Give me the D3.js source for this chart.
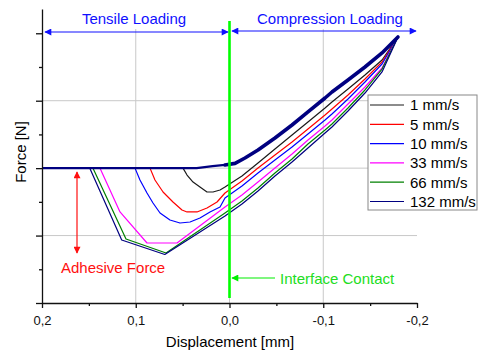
<!DOCTYPE html>
<html>
<head>
<meta charset="utf-8">
<script src="https://d3js.org/d3.v7.min.js"></script>
<style>
  body { margin: 0; background: #fff; }
  text { font-family: "Liberation Sans", Arial, sans-serif; }
</style>
</head>
<body>
<svg id="chart" width="481" height="353"></svg>
<script>
// speeds shown in the legend
var speeds = ["1 mm/s", "5 mm/s", "10 mm/s", "33 mm/s", "66 mm/s", "132 mm/s"];
var colors = ["#1a1a1a", "#ff0000", "#0000ff", "#ff00ff", "#008000", "#000080"];

// approach (loading) curve, shared by all speeds
var approachDisp  = [0.2, 0.1, 0.035, 0.018, 0.0048, -0.0059, -0.0165, -0.0304, -0.0485, -0.0667, -0.0837, -0.1019, -0.1093, -0.1264, -0.1445, -0.1627, -0.1797];
var approachForce = [0, 0, 0, 0.03, 0.047, 0.071, 0.15, 0.269, 0.447, 0.64, 0.833, 1.04, 1.129, 1.307, 1.5, 1.708, 1.945];

// unloading curves, from max compression back to 0,2 mm
var disp1   = [-0.1797, -0.1627, -0.1445, -0.1264, -0.1093, -0.1019, -0.0837, -0.0667, -0.0485, -0.0304, -0.0133, 0.0048, 0.0101, 0.0176, 0.024, 0.0315, 0.0389, 0.0453, 0.0496, 0.2];
var force1  = [1.945, 1.604, 1.381, 1.174, 0.981, 0.892, 0.684, 0.491, 0.284, 0.076, -0.117, -0.28, -0.324, -0.354, -0.354, -0.28, -0.206, -0.102, 0, 0];
var disp5   = [-0.1797, -0.1627, -0.1445, -0.1264, -0.1093, -0.1019, -0.0837, -0.0667, -0.0485, -0.0304, -0.0133, 0.0048, 0.0133, 0.024, 0.0347, 0.0453, 0.0507, 0.0603, 0.0709, 0.0795, 0.0848, 0.2];
var force5  = [1.945, 1.574, 1.322, 1.085, 0.877, 0.788, 0.58, 0.388, 0.195, 0.002, -0.191, -0.369, -0.502, -0.591, -0.65, -0.65, -0.621, -0.502, -0.354, -0.176, 0, 0];
var disp10  = [-0.1797, -0.1627, -0.1445, -0.1264, -0.1093, -0.1019, -0.0837, -0.0667, -0.0485, -0.0304, -0.0133, 0.0048, 0.0101, 0.0208, 0.0315, 0.0421, 0.0528, 0.0635, 0.0741, 0.0816, 0.088, 0.0955, 0.1008, 0.2];
var force10 = [1.945, 1.544, 1.277, 1.025, 0.803, 0.714, 0.506, 0.313, 0.121, -0.072, -0.265, -0.443, -0.576, -0.65, -0.739, -0.799, -0.814, -0.769, -0.665, -0.517, -0.369, -0.176, 0, 0];
var disp33  = [-0.1797, -0.1627, -0.1445, -0.1264, -0.1093, -0.1019, -0.0837, -0.0667, -0.0485, -0.0304, -0.0133, 0.0048, 0.056, 0.088, 0.1168, 0.1381, 0.2];
var force33 = [1.945, 1.485, 1.203, 0.951, 0.714, 0.625, 0.417, 0.21, 0.002, -0.206, -0.398, -0.576, -1.11, -1.11, -0.65, 0, 0];
var disp66  = [-0.1797, -0.1627, -0.1445, -0.1264, -0.1093, -0.1019, -0.0837, -0.0667, -0.0485, -0.0304, -0.0133, 0.0048, 0.0677, 0.1104, 0.1456, 0.2];
var force66 = [1.945, 1.47, 1.159, 0.892, 0.655, 0.566, 0.358, 0.136, -0.072, -0.295, -0.487, -0.665, -1.258, -1.051, 0, 0];
var disp132  = [-0.1797, -0.1627, -0.1445, -0.1264, -0.1093, -0.1019, -0.0837, -0.0667, -0.0485, -0.0304, -0.0133, 0.0048, 0.069, 0.115, 0.149, 0.2];
var force132 = [1.945, 1.426, 1.114, 0.847, 0.61, 0.521, 0.299, 0.091, -0.117, -0.339, -0.532, -0.71, -1.281, -1.066, 0, 0];

var unloadDisp  = [disp1, disp5, disp10, disp33, disp66, disp132];
var unloadForce = [force1, force5, force10, force33, force66, force132];

var xMajor = [0.2, 0.1, 0.0, -0.1, -0.2];
var xTickLabels = ["0,2", "0,1", "0,0", "-0,1", "-0,2"];
var xMinor = [0.15, 0.05, -0.05, -0.15];
var yMajor = [-2, -1, 0, 1, 2];
var yMinor = [-1.5, -0.5, 0.5, 1.5];

var svg = d3.select("#chart");

var x = d3.scaleLinear().domain([0.2, -0.2]).range([42, 417]);
var y = d3.scaleLinear().domain([-2, 2.36]).range([303, 9]);

// grid
svg.append("g").selectAll("line")
    .data([0.1, 0.0, -0.1])
    .enter().append("line")
    .attr("x1", d => x(d)).attr("x2", d => x(d))
    .attr("y1", 29).attr("y2", y(-2))
    .attr("stroke", "#c8c8c8").attr("stroke-width", 1);

svg.append("g").selectAll("line")
    .data([-1, 0, 1])
    .enter().append("line")
    .attr("x1", x(0.2)).attr("x2", x(-0.2))
    .attr("y1", d => y(d)).attr("y2", d => y(d))
    .attr("stroke", "#c8c8c8").attr("stroke-width", 1);

// curves
var line = d3.line().x(d => x(d[0])).y(d => y(d[1]));

unloadDisp.forEach(function(xs, i) {
    var pts = xs.map((v, j) => [v, unloadForce[i][j]]);
    svg.append("path")
        .datum(pts)
        .attr("d", line)
        .attr("fill", "none")
        .attr("stroke", colors[i])
        .attr("stroke-width", 1.2)
        .attr("stroke-linejoin", "round");
});

var approach = approachDisp.map((v, j) => [v, approachForce[j]]);
svg.append("path")
    .datum(approach.filter(d => d[0] >= 0))
    .attr("d", line)
    .attr("fill", "none")
    .attr("stroke", "#000080")
    .attr("stroke-width", 2.2);
svg.append("path")
    .datum(approach.filter(d => d[0] <= 0.005))
    .attr("d", line)
    .attr("fill", "none")
    .attr("stroke", "#000080")
    .attr("stroke-width", 3.6)
    .attr("stroke-linecap", "round")
    .attr("stroke-linejoin", "round");

// axes
var xAxis = svg.append("g").attr("transform", "translate(0," + y(-2) + ")")
    .call(d3.axisBottom(x).tickValues(xMajor).tickSize(5).tickSizeOuter(0)
        .tickFormat((d, i) => xTickLabels[i]));
xAxis.selectAll("text").attr("font-size", 13).attr("dy", "1.05em")
    .attr("font-family", "Liberation Sans, Arial, sans-serif").attr("fill", "#111");
svg.append("g").attr("transform", "translate(0," + y(-2) + ")")
    .call(d3.axisBottom(x).tickValues(xMinor).tickSize(3).tickSizeOuter(0).tickFormat(""))
    .select(".domain").remove();

svg.append("g").attr("transform", "translate(" + x(0.2) + ",0)")
    .call(d3.axisLeft(y).tickValues(yMajor).tickSize(6).tickSizeOuter(0).tickFormat(""));
svg.append("g").attr("transform", "translate(" + x(0.2) + ",0)")
    .call(d3.axisLeft(y).tickValues(yMinor).tickSize(3).tickSizeOuter(0).tickFormat(""))
    .select(".domain").remove();
svg.selectAll(".domain, .tick line").attr("stroke", "#111").attr("stroke-width", 1.3);

svg.append("text")
    .attr("x", 230).attr("y", 347)
    .attr("text-anchor", "middle")
    .attr("font-size", 15)
    .text("Displacement [mm]");

svg.append("text")
    .attr("transform", "translate(26,152) rotate(-90)")
    .attr("text-anchor", "middle")
    .attr("font-size", 15)
    .text("Force [N]");

// arrow markers
var defs = svg.append("defs");
function marker(id, color) {
    defs.append("marker")
        .attr("id", id)
        .attr("viewBox", "0 0 10 10")
        .attr("refX", 9).attr("refY", 5)
        .attr("markerWidth", 9).attr("markerHeight", 7)
        .attr("markerUnits", "userSpaceOnUse")
        .attr("orient", "auto-start-reverse")
        .append("path")
        .attr("d", "M0,0 L10,5 L0,10 z")
        .attr("fill", color);
}
marker("arrBlue", "#1010ff");
marker("arrRed", "#ff1010");
marker("arrGreen", "#00ee00");

// interface contact line
svg.append("line")
    .attr("x1", x(0)).attr("x2", x(0))
    .attr("y1", 21).attr("y2", 298)
    .attr("stroke", "#00ff00").attr("stroke-width", 2.6);

// loading region arrows
svg.append("line")
    .attr("x1", 45).attr("x2", 228).attr("y1", 32).attr("y2", 32)
    .attr("stroke", "#1010ff").attr("stroke-width", 1.2)
    .attr("marker-start", "url(#arrBlue)").attr("marker-end", "url(#arrBlue)");
svg.append("line")
    .attr("x1", 232).attr("x2", 416).attr("y1", 31).attr("y2", 31)
    .attr("stroke", "#1010ff").attr("stroke-width", 1.2)
    .attr("marker-start", "url(#arrBlue)").attr("marker-end", "url(#arrBlue)");
svg.append("text")
    .attr("x", 134).attr("y", 24).attr("text-anchor", "middle")
    .attr("font-size", 15).attr("fill", "#1010ff")
    .text("Tensile Loading");
svg.append("text")
    .attr("x", 330).attr("y", 24).attr("text-anchor", "middle")
    .attr("font-size", 15).attr("fill", "#1010ff")
    .text("Compression Loading");

// adhesive force
svg.append("line")
    .attr("x1", 77).attr("x2", 77).attr("y1", 172).attr("y2", 253)
    .attr("stroke", "#ff1010").attr("stroke-width", 1.2)
    .attr("marker-start", "url(#arrRed)").attr("marker-end", "url(#arrRed)");
svg.append("text")
    .attr("x", 61).attr("y", 273)
    .attr("font-size", 15).attr("fill", "#ff1010")
    .text("Adhesive Force");

// interface contact label
svg.append("line")
    .attr("x1", 275).attr("x2", 232).attr("y1", 278).attr("y2", 278)
    .attr("stroke", "#00ee00").attr("stroke-width", 1.2)
    .attr("marker-end", "url(#arrGreen)");
svg.append("text")
    .attr("x", 280).attr("y", 284)
    .attr("font-size", 15).attr("fill", "#22dd22")
    .text("Interface Contact");

// legend
var legend = svg.append("g");
legend.append("rect")
    .attr("x", 368).attr("y", 95).attr("width", 109).attr("height", 115)
    .attr("fill", "#fff").attr("stroke", "#888").attr("stroke-width", 1);
var items = legend.selectAll("g.item")
    .data(speeds)
    .enter().append("g")
    .attr("transform", (d, i) => "translate(0," + (105 + i * 19.3) + ")");
items.append("line")
    .attr("x1", 370).attr("x2", 404)
    .attr("stroke", (d, i) => colors[i]).attr("stroke-width", 1.2);
items.append("text")
    .attr("x", 410).attr("dy", "0.36em")
    .attr("font-size", 15)
    .text(d => d);
</script>
</body>
</html>
